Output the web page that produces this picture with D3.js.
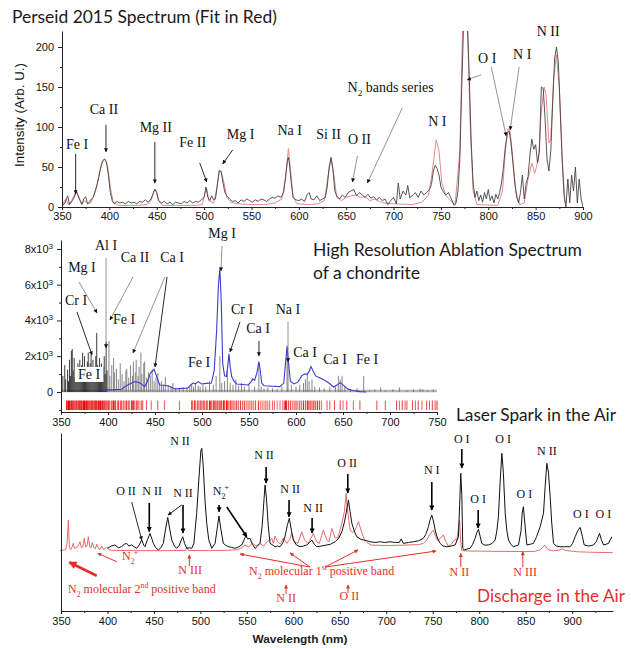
<!DOCTYPE html>
<html>
<head>
<meta charset="utf-8">
<script src="https://cdn.jsdelivr.net/npm/d3@7"></script>
<style>
  body { margin: 0; background: #fff; }
</style>
</head>
<body>
<svg id="chart" width="631" height="648"></svg>
<script>
// ---------- data: Perseid 2015 spectrum ----------
const perseidXTicks = [350, 400, 450, 500, 550, 600, 650, 700, 750, 800, 850, 900];
const perseidYTicks = [0, 50, 100, 150, 200];

const perseidObserved = [
  [350,12],[351,2],[353,5],[356,14],[358,3],[361,8],[363,12],[365,20],[367,14],[369,8],[371,3],[373,10],
  [375,13],[377,4],[379,6],[381,10],[383,12],[385,20],[387,28],[389,38],[391,50],[393,58],[395,60],[397,56],
  [399,40],[401,18],[403,8],[405,4],[408,7],[411,5],[414,6],[417,4],[420,7],[423,5],[426,6],[429,4],[432,7],
  [435,6],[438,9],[441,6],[444,10],[446,16],[448,22],[450,18],[452,8],[455,5],[458,7],[461,4],[464,6],[467,3],
  [470,6],[473,5],[476,4],[479,7],[482,5],[485,8],[488,5],[491,7],[494,6],[497,9],[500,12],[502,25],[504,12],
  [506,8],[508,14],[510,9],[512,10],[514,28],[516,46],[518,44],[520,30],[522,18],[524,14],[527,10],[530,7],
  [533,8],[536,5],[539,9],[542,7],[545,10],[548,8],[551,6],[554,9],[557,7],[560,10],[563,9],[566,7],[569,10],
  [572,12],[575,11],[578,14],[581,12],[584,18],[586,38],[588,58],[589,62],[590,55],[592,30],[594,12],[597,9],
  [600,8],[603,10],[606,7],[609,16],[611,18],[613,10],[616,9],[619,14],[622,8],[625,10],[628,12],[630,25],
  [632,50],[634,62],[636,48],[638,20],[640,14],[643,10],[646,15],[649,12],[652,18],[655,20],[658,22],[661,14],
  [664,18],[667,15],[670,12],[673,16],[676,11],[679,13],[682,9],[685,12],[688,8],[691,10],[694,3],[697,8],
  [700,12],[703,4],[705,30],[707,10],[710,20],[713,15],[715,27],[717,12],[720,14],[723,18],[726,12],[729,20],
  [732,15],[735,18],[738,22],[740,28],[742,45],[744,52],[746,48],[748,40],[750,25],[752,20],[755,15],[758,18],
  [761,10],[764,2],[766,5],[768,20],[770,60],[772,150],[774,230],[778,230],[780,160],[782,80],[784,30],[786,12],
  [788,20],[790,8],[792,15],[794,6],[796,18],[798,10],[800,22],[802,8],[804,14],[806,5],[808,16],[810,10],
  [812,18],[814,30],[816,50],[818,75],[820,92],[822,95],[824,80],[826,55],[828,30],[830,12],[832,5],[834,18],
  [836,40],[838,10],[840,30],[842,38],[844,65],[846,85],[848,72],[850,78],[852,55],[854,70],[856,150],[858,148],
  [860,110],[862,60],[864,45],[866,70],[868,130],[870,185],[872,200],[874,180],[876,120],[878,60],[880,15],
  [882,0],[884,35],[886,5],[888,40],[890,20],[892,50],[894,5],[896,35],[898,10],[900,0]
];

const perseidFit = [
  [350,2],[354,10],[357,3],[360,8],[363,15],[365,20],[368,12],[371,4],[374,8],[377,4],[380,5],[383,12],[386,22],
  [389,40],[392,55],[395,60],[398,52],[401,25],[404,6],[410,2],[420,2],[430,2],[440,3],[444,8],[447,20],[449,22],
  [452,8],[456,2],[470,2],[490,2],[498,3],[501,18],[503,22],[505,8],[510,5],[513,20],[516,44],[518,45],[521,30],
  [524,12],[528,6],[535,4],[550,3],[565,3],[575,5],[582,10],[586,35],[589,73],[591,50],[594,12],[598,4],[610,3],
  [620,4],[627,8],[631,40],[634,60],[637,40],[640,12],[645,8],[650,12],[655,14],[660,15],[665,12],[670,13],
  [675,8],[680,10],[685,7],[690,5],[700,4],[720,3],[730,6],[737,15],[741,45],[745,84],[748,70],[751,30],[755,15],
  [760,8],[765,3],[770,70],[773,230],[778,230],[781,100],[784,20],[788,3],[810,2],[815,20],[818,70],[821,98],
  [823,95],[826,60],[829,20],[833,3],[838,5],[842,35],[846,55],[849,42],[853,60],[856,120],[859,150],[861,140],
  [864,80],[866,85],[869,160],[872,190],[875,150],[878,60],[881,5]
];

const perseidLabels = [
  { text: "Fe I", at: [365.8, 72.6], arrows: [[364.4, 66.4, 364.4, 16.3, "k"]] },
  { text: "Ca II", at: [394.3, 116.5], arrows: [[396.4, 102.7, 396.4, 68.9, "k"]] },
  { text: "Mg II", at: [449, 93.9], arrows: [[448, 81.4, 448, 30, "k"]] },
  { text: "Fe II", at: [488, 75], arrows: [[495.4, 55.1, 502.8, 31.3, "k"]] },
  { text: "Mg I", at: [538.6, 85.2], arrows: [[530.2, 71.4, 519.7, 53.9, "k"]] },
  { text: "Na I", at: [590.3, 90.2] },
  { text: "Si II", at: [631.4, 85.2] },
  { text: "O II", at: [664, 78.9], arrows: [[661.9, 63.9, 656.6, 31.3, "g"]] },
  { text: ["N", { sub: "2" }, " bands series"], at: [651.4, 144], anchor: "start",
    arrows: [[709.3, 124, 672.4, 30, "g"]] },
  { text: "N I", at: [746.2, 101.4] },
  { text: "O I", at: [798.9, 180.3],
    arrows: [[792.6, 165.3, 777.8, 159, "g"], [803.1, 175.3, 818.9, 88.9, "g"]] },
  { text: "N I", at: [835.8, 185.3], arrows: [[832.6, 175.3, 823.1, 96.4, "g"]] },
  { text: "N II", at: [863.2, 214] }
];

// ---------- data: high resolution ablation spectrum ----------
const ablationXTicks = [350, 400, 450, 500, 550, 600, 650, 700, 750];
const ablationYTicks = [0, 2000, 4000, 6000, 8000];

const ablationLines = [
  [352,900],[354,1500],[355,700],[357,1250],[358,600],[359,1800],[360,900],[361,2300],[362,2400],[363,1200],
  [364,1900],[365,800],[366,1300],[367,600],[368,1600],[369,1000],[370,1800],[371,700],[372,1500],[373,2200],
  [374,900],[375,2000],[376,1200],[377,800],[378,1700],[379,2200],[380,1000],[381,1600],[382,2100],[383,1300],
  [384,1800],[385,700],[386,1400],[387,2000],[388,3300],[389,1500],[390,900],[391,1900],[392,1200],[393,1600],
  [394,800],[395,1400],[396,2000],[397,1000],[398,2800],[399,1200],[401,2850],[402,900],[404,1500],[406,1900],
  [407,1100],[409,1300],[411,700],[413,1600],[415,1000],[417,600],[419,1200],[420,1300],[422,800],[424,1500],
  [426,900],[427,1700],[429,1100],[430,1800],[432,900],[433,1400],[435,2200],[436,1000],[438,1600],[439,1700],
  [441,800],[443,1100],[445,900],[447,1250],[449,600],[451,800],[453,1050],[455,500],[457,600],[459,400],
  [461,850],[464,400],[467,300],[469,500],[472,250],[476,200],[480,250],[484,300],[487,350],[489,450],[491,300],
  [493,500],[496,350],[498,300],[501,400],[504,300],[508,600],[512,400],[515,900],[519,2000],[521,500],[524,600],
  [527,1200],[530,500],[533,400],[536,700],[539,350],[542,500],[545,300],[550,400],[556,300],[560.5,1600],
  [563,300],[566,200],[570,250],[575,200],[580,150],[585,300],[590.5,2600],[591.5,2000],[595,400],[600,300],
  [604,400],[608,500],[610,700],[612,1000],[614,600],[617,700],[620,300],[625,250],[630,200],[636,300],[642,300],
  [645,900],[647,700],[649,900],[652,300],[658,150],[665,200],[672,900],[678,100],[684,150],[690,250],[695,100],
  [703,150],[710,250],[718,100],[725,150],[732,200],[735,150],[740,100],[746,150]
];

const ablationBaseline = [[350, 60], [750, 60]];

const ablationSmooth = [
  [393,110],[400,120],[407,130],[414.5,150],[418,300],[423,450],[428.7,580],[431,560],[434,500],[437,380],
  [439,300],[442,600],[445,1040],[449,1270],[451.8,860],[455,390],[460,380],[464,330],[468,250],[471,170],
  [478,200],[485,220],[488,400],[490.5,500],[493,450],[496,580],[499.6,450],[505,480],[510,500],[513,1200],
  [515.6,3470],[517.5,6000],[519,6900],[520.5,5000],[522,1600],[524,900],[526,860],[527.5,1500],[528.7,2130],
  [530,1400],[531.6,860],[534,600],[537,450],[543,420],[549,390],[552,550],[554,730],[556,650],[558.5,1100],
  [560.5,1700],[561.8,1300],[563.5,500],[566,350],[575,320],[583,300],[587,500],[589.5,2000],[590.5,2530],
  [591.8,1800],[594,600],[598,450],[602,550],[606,900],[609,1000],[612,1000],[614,1150],[616,1420],[618,1200],
  [621,900],[625,800],[630,670],[635,500],[640,280],[644,400],[647,520],[650,400],[655,170],[660,80],[668,20],
  [675,0]
];

const ablationStrip = [
  [356,1],[357,.6],[358,1],[359,1],[360,.5],[361,1],[362,1],[363,.7],[364,1],[365,.5],[366,1],[367,1],[368,.6],
  [369,1],[370,1],[371,.8],[372,1],[373,.5],[374,1],[375,1],[376,.6],[377,1],[378,1],[379,.7],[380,1],[381,.5],
  [382,1],[383,1],[384,1],[385,.6],[386,1],[387,1],[388,1],[389,.5],[390,1],[391,.7],[392,1],[393,.5],[394,1],
  [395,.6],[396,1],[397,.5],[398,1],[399,.4],[400,.8],[401,1],[402,.5],[404,.8],[405,.4],[406,1],[407,.5],
  [408,.7],[410,.4],[411,.8],[413,.5],[414,1],[416,.4],[417,.7],[419,.5],[420,1],[422,.6],[423,.4],[425,.8],
  [426,.5],[427,1],[428,.4],[430,.9],[431,.5],[432,.7],[434,.4],[436,.8],[437,.5],
  [441,.6],[446,.5],[453,.6],[460,.5],[476,.5],
  [489,.7],[490,.5],[492,.8],[493,.4],[495,.7],[496,.5],[498,.9],[499,.5],[500,.6],[502,1],[503,.5],[505,.7],
  [506,.4],[508,.9],[509,.6],[510,.5],[512,1],[513,.6],[514,.8],[516,1],[517,.7],[519,1],[520,.5],[521,.8],
  [523,1],[524,.6],[526,1],[527,.7],[528,.5],[530,1],[531,.6],[533,.8],[535,.6],[537,.9],[539,.5],[541,.7],
  [543,.5],[545,.8],[547,.4],[549,.6],[551,.5],[553,.7],[555,.4],[557,.6],[560,.8],[562,.4],[564,.5],[566,.4],
  [568,.6],[570,.4],[572,.5],[575,.4],[577,.5],[580,.4],[583,.5],[586,.6],[588,.8],[589,1],[590,.9],[592,.6],
  [594,.7],[596,.5],[598,.6],[600,.8],[602,.5],[604,.7],[606,.5],[608,.8],[610,.6],[612,1],[613,.7],[615,1],
  [617,.8],[619,1],[621,.7],[623,.9],[625,.6],[627,.5],
  [633,.6],[636,.5],[641,.6],[647,.7],[650,.5],[654,.6],[661,.5],[668,.6],[686,.6],[695,.6],[707,.7],[710,.5],
  [713,.7],[716,.5],[718,.6],[724,.6],[727,.5],[730,.7],[734,.5],[739,.6],[742,.5],[745,.7],[748,.6],[750,.8]
];

const ablationLabels = [
  { text: "Mg I", at: [521.3, 8615], arrows: [[521.3, 8168, 520.2, 6769, "g"]] },
  { text: "Al I", at: [397.9, 7944], arrows: [[397.9, 7497, 397.9, 2462, "g"]] },
  { text: "Mg I", at: [372.3, 6713], arrows: [[369.1, 6154, 388.3, 4420, "g"]] },
  { text: "Ca II", at: [428.7, 7273], arrows: [[426.6, 6434, 402.1, 4028, "g"]] },
  { text: "Ca I", at: [468.1, 7273],
    arrows: [[460.6, 6434, 426.6, 2182, "g"], [462.8, 6434, 450, 1399, "k"]] },
  { text: "Cr I", at: [366, 4867], arrows: [[367, 4476, 383, 2070, "k"]] },
  { text: "Fe I", at: [417, 3804] },
  { text: "Fe I", at: [379.8, 727], box: true },
  { text: "Fe I", at: [496.8, 1399] },
  { text: "Cr I", at: [542.6, 4364], arrows: [[540.4, 3916, 529.8, 2238, "k"]] },
  { text: "Ca I", at: [559.6, 3301], arrows: [[560.6, 2853, 560.6, 2014, "k"]] },
  { text: "Na I", at: [591.5, 4364], arrows: [[591.5, 3916, 591.5, 1678, "g"]] },
  { text: "Ca I", at: [609.6, 1958] },
  { text: "Ca I", at: [641.5, 1566] },
  { text: "Fe I", at: [675.5, 1566] }
];

// ---------- data: laser spark / discharge in the air ----------
const sparkXTicks = [350, 400, 450, 500, 550, 600, 650, 700, 750, 800, 850, 900];

const sparkSpectrum = [
  [400,35.2],[404,36.5],[408,37.1],[412,35.5],[415,36.1],[418,37.5],[420.7,38],[423,36.5],[426,37.1],[429,36],
  [431.5,35.2],[434,37],[436.9,39.9],[439,37],[440.4,36.1],[443,40],[445.8,43.6],[447.5,41],[449.4,38],
  [452,35.5],[454.8,34.3],[457.5,35.5],[460.1,38],[462.5,46],[464.9,52.6],[467,46],[469.2,39.9],[472,36.5],
  [474.5,35.2],[477.5,37],[479.5,40],[481,41.7],[483,38],[485.3,35.2],[488,35.5],[490.7,35.2],[493,38],
  [496,54.9],[498.5,75],[500.5,90],[501.5,91.4],[503,82],[505,62],[506.8,49.3],[509,40],[512.2,35.2],
  [515.8,38],[518,46],[520,53.4],[522,46],[524.7,38],[527,37],[530,36.1],[533.5,35.8],[537.3,35.2],[541,36],
  [544.5,37.1],[547,40],[548.8,42.1],[551,40.5],[553.4,40.8],[556,37.5],[558.8,35.2],[561.5,36.5],[564.2,38],
  [566.5,48],[568.5,63],[569.6,70.8],[571,64],[573,48],[575,38],[578,37],[580.4,36.1],[583,36.5],[585.7,36.1],
  [588.5,38],[591,41.7],[593.5,48],[595.7,52.1],[598,45],[600,39.9],[603.5,37],[607.3,36.1],[611,36.5],
  [614.5,37.1],[617.5,38.5],[619.9,39.9],[622.5,37.5],[625.3,36.1],[630,36.5],[636,37.1],[640,37.5],[645,38.9],
  [649,41],[652.2,44.5],[655,50],[656.8,54.9],[659.3,62.4],[661,56],[663,49.3],[665.5,45],[668.3,41.7],
  [672,40.5],[675.5,39.9],[679,39.5],[682.6,38.9],[688,38.5],[693.4,38.9],[698,38.5],[704.1,38.9],[710,38.5],
  [714,38.5],[716,40.5],[718.5,38],[724,38.5],[729.2,38.9],[735,39.5],[739.9,40.8],[742.5,43],[745.4,47.4],
  [747,51],[749,53.9],[751,50],[752.6,45.5],[755,41],[758,38],[761,36.5],[765.2,36.1],[770,36.5],[774.1,37.1],
  [777.7,41.7],[779,60],[780.2,77.4],[781.3,65],[782.4,35.2],[783.8,34.3],[787,34.8],[790.2,35.2],[793,37.5],
  [795.6,40.8],[797.5,44],[799.2,45.9],[801,42],[802.8,38],[806,37],[810,37.1],[814,38],[817.2,39.9],[819,45],
  [820.7,53],[822.5,72],[824.4,88.6],[826,78],[828,54.9],[829.8,45],[831.5,39.9],[834,37.5],[836.9,36.1],
  [842.3,37.1],[845,45],[846.3,55],[847.6,58.6],[849,50],[851.3,37.1],[855,37.5],[858.4,38],[862,42],
  [865.6,47.4],[869.2,54.9],[871,70],[872.8,83],[874.5,78],[876.4,64.2],[878,50],[880,38],[883,36.5],
  [887.1,36.1],[892,36.1],[897.9,36.1],[900.5,38],[903.3,41.7],[906,45],[908.7,47],[911,42],[913,37.1],
  [918,36.5],[923,37.1],[926,39],[929.5,43.6],[931.5,40],[933.8,37.1],[936.5,37.5],[939.2,38],[941,40],
  [942.8,41.7]
];

const dischargeSpectrum = [
  [349,33.9],[352,34.2],[355,34.5],[356.5,38],[357.9,51.1],[359,36],[360.5,34.5],[362,36],[363.2,38],[364.5,35],
  [366,35.5],[368,36],[370.4,38.9],[372,35.5],[373.5,36],[375,40.8],[376.5,36],[378,36.5],[379.4,41.7],[381,36],
  [382.5,35.5],[383.7,38.5],[385.5,35.5],[387,35],[388.4,37.5],[390.5,35],[392,34.5],[393.8,36.5],[396,34.5],
  [399.2,36],[402,34.2],[410,34],[430,33.9],[460,33.9],[484,34],[485.5,36],[487,34],[510,33.9],[535,34.2],
  [540,34.5],[544.5,35.5],[548,37],[552,36],[556,38],[560,36.5],[564,38],[568,36.5],[572,39],[576.8,40.8],
  [578.5,38],[580.4,42.1],[583,39],[586,37.5],[589.3,41],[593,38],[596,40],[598.3,43.6],[601,39],[605,38],
  [609.1,44.5],[612,40],[616,38],[621.6,43.5],[625,39],[628,38],[632.3,45.5],[636,40],[638.5,39],[641.4,46.4],
  [645,41],[648,41],[652.2,49.3],[655,56],[656.8,66.1],[658,58],[661.1,45.5],[663.5,44],[666.5,45.5],
  [670.1,50.2],[673.7,44],[676.5,40],[679.1,38.5],[684,37],[700,36.8],[720,37],[735,37.3],[740,38],
  [743.6,39.9],[747,43],[750.8,45.5],[753,42],[755.5,39.5],[758.5,41],[761.5,42.7],[764,39],[767.4,36.1],
  [770.5,38],[774,40.2],[776,40],[777.5,46],[778.8,51.1],[780,40],[781.2,33.9],[790,33.7],[820,33.5],[850,33.4],
  [860,33.5],[866,34.5],[870.5,37.1],[874,34.5],[880,33.8],[886,34.2],[889,35],[893,34],[905,33.3],[920,33],
  [943.8,32.8]
];

const sparkLabels = [
  { text: "N II", at: [478.1, 93.3] },
  { text: "O II", at: [420, 65.2], arrows: [[426.1, 61.2, 436.9, 39.9, "k"]] },
  { text: "N II", at: [448, 65.2], arrows: [[445, 60.7, 445, 44.6, "K"]] },
  { text: "N II", at: [481.3, 64.2],
    arrows: [[479.9, 59.6, 465.2, 53.9, "k"], [481.3, 59.6, 481.3, 43.8, "K"]] },
  { text: ["N", { sub: "2" }, { sup: "+" }], at: [522, 65.2],
    arrows: [[520.1, 59.6, 520.1, 55.8, "K"], [528.4, 58.4, 549.9, 41.7, "K"]] },
  { text: "N II", at: [568.5, 85.4], arrows: [[570.7, 80.9, 570.7, 71.9, "K"]] },
  { text: "N II", at: [596.5, 66.5], arrows: [[595.4, 62.4, 595.4, 53, "K"]] },
  { text: "N II", at: [621.3, 55.8], arrows: [[620.2, 52.2, 620.2, 43.8, "K"]] },
  { text: "O II", at: [657.9, 81.1], arrows: [[658.6, 77, 658.6, 66.3, "K"]] },
  { text: "N I", at: [749, 77], arrows: [[749, 72.5, 749, 56.7, "K"]] },
  { text: "O I", at: [781.3, 94.6], arrows: [[781.3, 91, 781.3, 80.3, "K"]] },
  { text: "O I", at: [798.9, 60.8], arrows: [[798.9, 56.7, 798.9, 46.6, "K"]] },
  { text: "O I", at: [825.8, 94.6] },
  { text: "N II", at: [872.8, 87.6] },
  { text: "O I", at: [848.7, 63.7] },
  { text: "O I", at: [909.4, 52.1] },
  { text: "O I", at: [933.7, 52.1] },
  { text: ["N", { sub: "2" }, { sup: "+" }], at: [424.3, 28.7], red: true,
    arrows: [[410, 27.7, 389.5, 32.4, "r"]] },
  { text: "", at: [388.4, 19.8], red: true, arrows: [[388.4, 19.8, 358.9, 27.4, "R"]] },
  { text: ["N", { sub: "2" }, " molecular 2", { sup: "nd" }, " positive band"], at: [357.5, 10.1],
    anchor: "start", red: true },
  { text: "N III", at: [488.9, 20.8], red: true, arrows: [[488.1, 25.3, 488.1, 31.5, "r"]] },
  { text: ["N", { sub: "2" }, " molecular 1", { sup: "st" }, " positive band"], at: [552.4, 20.2],
    anchor: "start", red: true,
    arrows: [[618, 24.7, 542.7, 32, "r"], [618, 24.7, 596.5, 32.6, "r"],
             [634.2, 24.7, 669.7, 34.3, "r"], [634.2, 24.7, 753.7, 33.7, "r"]] },
  { text: "N II", at: [592.2, 5.2], red: true, arrows: [[592.2, 9.6, 592.2, 14.6, "r"]] },
  { text: "O II", at: [660.3, 6.2], red: true, arrows: [[658.9, 10.1, 658.9, 14.6, "r"]] },
  { text: "N II", at: [778.7, 19.7], red: true, arrows: [[780.2, 24.7, 780.2, 32.4, "r"]] },
  { text: "N III", at: [849.5, 19.7], red: true, arrows: [[847, 24.7, 847, 33.3, "r"]] }
];

// ---------- drawing ----------
const RED = "#e3302b";
const sansFont = "Liberation Sans";
const serifFont = "Liberation Serif";
const titleFont = "Lato";

const svg = d3.select("#chart");
const defs = svg.append("defs");

const arrowStyles = {
  k: { color: "#111", width: 0.9, head: "head-k" },
  K: { color: "#000", width: 1.6, head: "head-K" },
  g: { color: "#777", width: 0.8, head: "head-k" },
  r: { color: RED, width: 1, head: "head-r" },
  R: { color: RED, width: 2.6, head: "head-R" }
};

function addMarker(id, color, w, h) {
  defs.append("marker")
    .attr("id", id)
    .attr("viewBox", "0 0 10 10")
    .attr("refX", 9)
    .attr("refY", 5)
    .attr("markerWidth", w)
    .attr("markerHeight", h)
    .attr("markerUnits", "userSpaceOnUse")
    .attr("orient", "auto")
    .append("path")
    .attr("d", "M0,0L10,5L0,10z")
    .attr("fill", color);
}
addMarker("head-k", "#111", 6, 4);
addMarker("head-K", "#000", 7, 5);
addMarker("head-r", RED, 6, 4);
addMarker("head-R", RED, 11, 8);

function fitText(sel, width) {
  const w = sel.node().getComputedTextLength();
  const fs = parseFloat(sel.attr("font-size"));
  sel.attr("font-size", (fs * width) / w);
  return sel;
}

function appendTitle(text, x, y, width, color) {
  const t = svg.append("text")
    .attr("x", x)
    .attr("y", y)
    .attr("font-family", titleFont)
    .attr("font-size", 18)
    .attr("fill", color || "#1a1a1a")
    .text(text);
  return fitText(t, width);
}

function appendRich(g, x, y, parts, opts) {
  const t = g.append("text")
    .attr("x", x)
    .attr("y", y)
    .attr("dy", "0.35em")
    .attr("text-anchor", opts.anchor || "middle")
    .attr("font-family", serifFont)
    .attr("font-size", opts.size)
    .attr("fill", opts.color);
  const list = typeof parts === "string" ? [parts] : parts;
  let shift = 0;
  list.forEach((p) => {
    let s = 0, str = p, small = false, dx = 0;
    if (typeof p !== "string") {
      if (p.sub) { s = opts.size * 0.3; str = p.sub; small = true; }
      else { s = -opts.size * 0.38; str = p.sup; small = true; if (shift > 0) dx = -1; }
    }
    const ts = t.append("tspan").attr("dy", s - shift).text(str);
    if (dx) ts.attr("dx", dx);
    if (small) ts.attr("font-size", opts.size * 0.65);
    shift = s;
  });
  return t;
}

function appendLabels(g, x, y, labels, size) {
  labels.forEach((d) => {
    const color = d.red ? RED : "#111";
    (d.arrows || []).forEach((a) => {
      const st = arrowStyles[a[4]];
      g.append("line")
        .attr("x1", x(a[0])).attr("y1", y(a[1]))
        .attr("x2", x(a[2])).attr("y2", y(a[3]))
        .attr("stroke", st.color)
        .attr("stroke-width", st.width)
        .attr("marker-end", `url(#${st.head})`);
    });
    if (!d.text) return;
    const t = appendRich(g, x(d.at[0]), y(d.at[1]), d.text,
      { size: size, color: color, anchor: d.anchor });
    if (d.box) {
      const b = t.node().getBBox();
      g.insert("rect", () => t.node())
        .attr("x", b.x - 3).attr("y", b.y)
        .attr("width", b.width + 6).attr("height", b.height)
        .attr("fill", "#fff");
    }
  });
}

function appendAxis(g, axis, transform) {
  const a = g.append("g").attr("transform", transform).call(axis);
  a.attr("font-family", sansFont).attr("font-size", 11);
  a.select(".domain").attr("stroke", "#222");
  a.selectAll(".tick line").attr("stroke", "#222");
  a.selectAll(".tick text").attr("fill", "#111");
  return a;
}

function appendMinor(g, axis, transform) {
  const a = g.append("g").attr("transform", transform).call(axis);
  a.select(".domain").remove();
  a.selectAll(".tick line").attr("stroke", "#222");
  return a;
}

// minor tick positions halfway between the labelled ticks (plus an optional extra one)
function between(ticks, extra) {
  const mids = ticks.slice(0, -1).map((v, i) => (v + ticks[i + 1]) / 2);
  return extra ? mids.concat([extra]) : mids;
}

const line = (x, y) => d3.line().x((d) => x(d[0])).y((d) => y(d[1]));

// ----- panel 1: Perseid -----
const x1 = d3.scaleLinear().domain([350, 900]).range([62, 583]);
const y1 = d3.scaleLinear().domain([0, 220]).range([207, 31]);
const p1 = svg.append("g");

appendTitle("Perseid 2015 Spectrum (Fit in Red)", 12, 23, 265);

defs.append("clipPath").attr("id", "clip1")
  .append("rect").attr("x", 62).attr("y", 31).attr("width", 521).attr("height", 177);

const plot1 = p1.append("g").attr("clip-path", "url(#clip1)");
plot1.append("path").datum(perseidFit)
  .attr("d", line(x1, y1)).attr("fill", "none")
  .attr("stroke", "#e58a8a").attr("stroke-width", 1);
plot1.append("path").datum(perseidObserved)
  .attr("d", line(x1, y1)).attr("fill", "none")
  .attr("stroke", "#444").attr("stroke-width", 0.9);

appendAxis(p1, d3.axisLeft(y1).tickValues(perseidYTicks).tickSize(4).tickSizeOuter(0).tickPadding(4),
  "translate(62,0)");
appendMinor(p1, d3.axisLeft(y1).tickValues(between(perseidYTicks)).tickSize(2).tickFormat(""),
  "translate(62,0)");
appendAxis(p1, d3.axisBottom(x1).tickValues(perseidXTicks).tickSize(3).tickSizeOuter(0).tickPadding(2),
  "translate(0,207)");
appendMinor(p1, d3.axisBottom(x1).tickValues(between(perseidXTicks)).tickSize(2).tickFormat(""),
  "translate(0,207)");

fitText(p1.append("text")
  .attr("transform", "translate(24,115) rotate(-90)")
  .attr("text-anchor", "middle")
  .attr("font-family", sansFont)
  .attr("font-size", 12)
  .attr("fill", "#111")
  .text("Intensity (Arb. U.)"), 104);

appendLabels(p1, x1, y1, perseidLabels, 14);

// ----- panel 2: ablation -----
const x2 = d3.scaleLinear().domain([350, 750]).range([61, 437]);
const y2 = d3.scaleLinear().domain([-1120, 8500]).range([412, 240]);
const p2 = svg.append("g");

appendTitle("High Resolution Ablation Spectrum", 313, 256, 269);
appendTitle("of a chondrite", 313, 279, 107);
appendTitle("Laser Spark in the Air", 456, 421, 160);

p2.append("path").datum(ablationBaseline)
  .attr("d", line(x2, y2)).attr("stroke", "#b5b5b5").attr("stroke-width", 2.5).attr("fill", "none");

p2.append("g").selectAll("line")
  .data(ablationLines)
  .join("line")
  .attr("x1", (d) => x2(d[0])).attr("x2", (d) => x2(d[0]))
  .attr("y1", y2(0)).attr("y2", (d) => y2(d[1]))
  .attr("stroke", (d) => (d[0] < 400 ? "#1a1a1a" : "#707070"))
  .attr("stroke-width", 0.85);

p2.append("path").datum(ablationSmooth)
  .attr("d", line(x2, y2)).attr("fill", "none")
  .attr("stroke", "#3a3ad8").attr("stroke-width", 1.1);

const stripColor = d3.interpolateRgb("#f6b3b3", "#e60000");
p2.append("g").selectAll("line")
  .data(ablationStrip)
  .join("line")
  .attr("x1", (d) => x2(d[0])).attr("x2", (d) => x2(d[0]))
  .attr("y1", y2(-480)).attr("y2", y2(-1010))
  .attr("stroke", (d) => stripColor(d[1]))
  .attr("stroke-width", 1);

const yAx2 = appendAxis(p2,
  d3.axisLeft(y2).tickValues(ablationYTicks).tickSize(4).tickSizeOuter(0).tickPadding(4),
  "translate(61,0)");
yAx2.selectAll(".tick text").each(function (d) {
  if (!d) return;
  const t = d3.select(this).text("");
  t.append("tspan").text(`${d / 1000}x10`);
  t.append("tspan").attr("dy", -4).attr("font-size", 8).text("3");
});
appendMinor(p2, d3.axisLeft(y2).tickValues([-1000, 1000, 3000, 5000, 7000]).tickSize(2).tickFormat(""),
  "translate(61,0)");
appendAxis(p2, d3.axisBottom(x2).tickValues(ablationXTicks).tickSize(3).tickSizeOuter(0).tickPadding(3),
  "translate(0,412)");
appendMinor(p2, d3.axisBottom(x2).tickValues(between(ablationXTicks)).tickSize(2).tickFormat(""),
  "translate(0,412)");

appendLabels(p2, x2, y2, ablationLabels, 14);

// ----- panel 3: laser spark / discharge -----
const x3 = d3.scaleLinear().domain([350, 944]).range([61, 613]);
const y3 = d3.scaleLinear().domain([0, 100]).range([611, 433]);
const p3 = svg.append("g");

p3.append("path").datum(dischargeSpectrum)
  .attr("d", line(x3, y3)).attr("fill", "none")
  .attr("stroke", "#e45a5a").attr("stroke-width", 0.9);
p3.append("path").datum(sparkSpectrum)
  .attr("d", line(x3, y3)).attr("fill", "none")
  .attr("stroke", "#111").attr("stroke-width", 1);

appendAxis(p3, d3.axisLeft(y3).tickValues([]).tickSizeOuter(0), "translate(61,0)");
appendAxis(p3, d3.axisBottom(x3).tickValues(sparkXTicks).tickSize(3).tickSizeOuter(0).tickPadding(3),
  "translate(0,611)");
appendMinor(p3, d3.axisBottom(x3).tickValues(between(sparkXTicks, 925)).tickSize(2).tickFormat(""),
  "translate(0,611)");

fitText(p3.append("text")
  .attr("x", 300).attr("y", 643)
  .attr("text-anchor", "middle")
  .attr("font-family", sansFont)
  .attr("font-weight", "bold")
  .attr("font-size", 11)
  .attr("fill", "#222")
  .text("Wavelength (nm)"), 95);

appendLabels(p3, x3, y3, sparkLabels, 12);

appendTitle("Discharge in the Air", 477, 602, 148, RED);
</script>
</body>
</html>
